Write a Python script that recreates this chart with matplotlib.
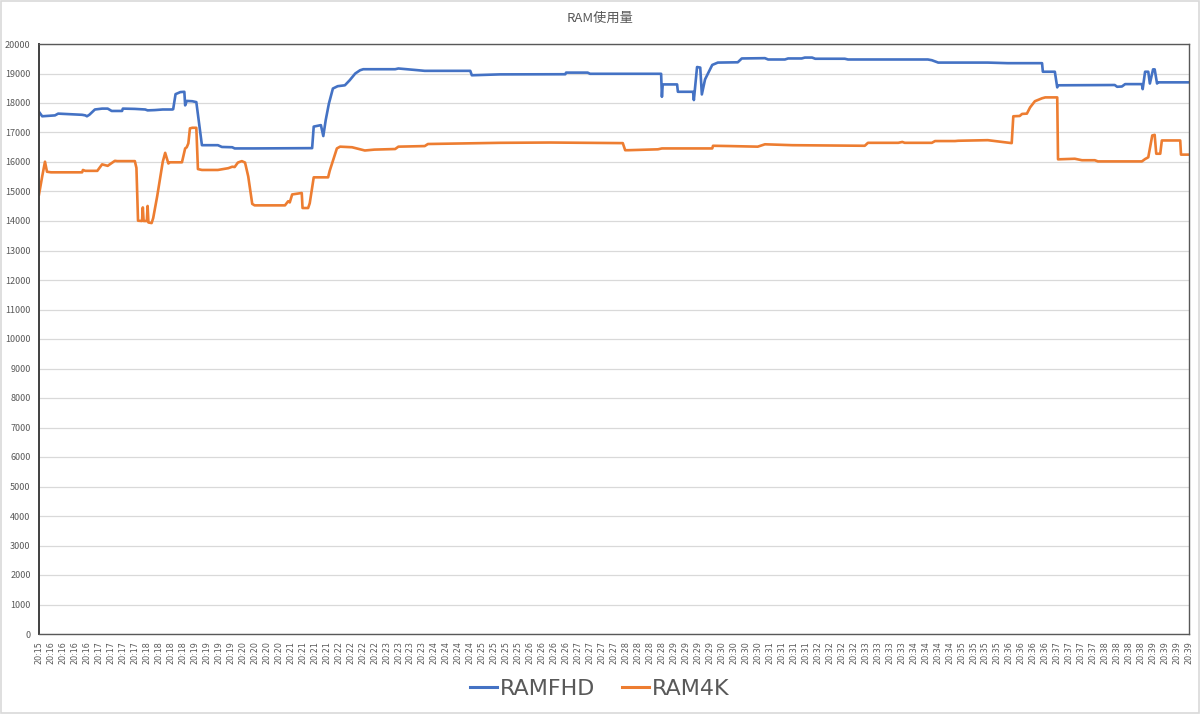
import matplotlib
matplotlib.use("Agg")
import matplotlib.pyplot as plt
from matplotlib.lines import Line2D
from matplotlib.patches import Rectangle

plt.rcParams['font.family'] = ['Noto Sans CJK JP', 'DejaVu Sans']

# time axis: seconds since 20:15:00, labels every 15 s
tick_labels = ["20:15"] + [f"20:{m}" for m in range(16, 40) for _ in range(4)]

# RAMFHD (MB): sample time (s) and value
fhd_t = [0, 4, 20, 24, 54, 58, 60, 63, 70, 79, 86, 91, 104, 105, 120, 133, 136, 145, 155, 167,
         168, 171, 177, 182, 183, 185, 192, 197, 204, 224, 229, 242, 245, 270, 342, 344, 353, 356,
         359, 363, 368, 374, 383, 389, 396, 402, 406, 446, 450, 471, 483, 540, 542, 577, 659, 660,
         687, 690, 779, 780, 781, 799, 800, 819, 820, 824, 828, 830, 834, 843, 850, 875, 880, 909,
         913, 934, 938, 955, 959, 968, 972, 1009, 1013, 1113, 1118, 1126, 1188, 1213, 1256, 1257,
         1272, 1275, 1276, 1347, 1350, 1356, 1360, 1381, 1382, 1385, 1389, 1391, 1395, 1397, 1400,
         1401, 1440]
fhd_v = [17700, 17550, 17580, 17640, 17600, 17580, 17550, 17600, 17780, 17810, 17810, 17730, 17730,
         17810, 17800, 17780, 17750, 17760, 17780, 17780, 17790, 18300, 18370, 18380, 17920, 18070,
         18060, 18030, 16570, 16570, 16510, 16500, 16460, 16460, 16470, 17200, 17250, 16880, 17420,
         17980, 18490, 18570, 18600, 18770, 19000, 19110, 19145, 19145, 19170, 19120, 19090, 19090,
         18940, 18970, 18975, 19030, 19030, 18990, 18990, 18210, 18630, 18630, 18380, 18380, 18100,
         19220, 19200, 18290, 18800, 19290, 19370, 19380, 19510, 19520, 19475, 19475, 19510, 19510,
         19540, 19540, 19500, 19500, 19475, 19475, 19450, 19370, 19370, 19350, 19350, 19060, 19060,
         18530, 18600, 18610, 18550, 18560, 18640, 18640, 18470, 19060, 19060, 18660, 19140, 19140,
         18660, 18700, 18700]

# RAM4K (MB)
k4_t = [0, 4, 7.5, 10, 15, 54, 55, 58, 73, 79, 86, 95, 98, 120, 122, 124, 129, 130, 131, 135, 136,
        137, 141, 143, 148, 152, 155, 158, 162, 164, 179, 183, 185, 187, 189, 192, 197, 199, 204,
        224, 237, 242, 245, 249, 254, 258, 262, 267, 270, 308, 312, 314, 317, 329, 330, 337, 339,
        344, 362, 364, 373, 377, 392, 408, 420, 446, 450, 483, 487, 577, 640, 731, 734, 738, 775,
        780, 843, 844, 865, 900, 909, 943, 1034, 1038, 1076, 1081, 1084, 1118, 1122, 1147, 1151,
        1188, 1218, 1220, 1228, 1231, 1237, 1241, 1247, 1256, 1260, 1275, 1276, 1297, 1306, 1322,
        1326, 1381, 1385, 1389, 1394, 1397, 1399, 1404, 1406, 1429, 1430, 1440]
k4_v = [14900, 15510, 16010, 15670, 15650, 15650, 15730, 15700, 15700, 15920, 15870, 16040, 16030,
        16030, 15800, 14010, 14000, 14460, 14000, 14000, 14510, 13950, 13930, 14100, 14840, 15510,
        16010, 16310, 15950, 15990, 15990, 16460, 16500, 16630, 17140, 17160, 17160, 15760, 15730,
        15730, 15790, 15840, 15830, 15980, 16030, 15980, 15510, 14580, 14530, 14530, 14670, 14630,
        14900, 14950, 14440, 14440, 14600, 15480, 15480, 15700, 16460, 16520, 16500, 16390, 16420,
        16440, 16520, 16540, 16610, 16650, 16660, 16640, 16400, 16400, 16430, 16460, 16460, 16550,
        16540, 16520, 16600, 16570, 16550, 16650, 16650, 16680, 16650, 16650, 16710, 16710, 16720,
        16740, 16640, 17550, 17560, 17630, 17640, 17850, 18060, 18160, 18190, 18190, 16090, 16110,
        16060, 16060, 16020, 16020, 16100, 16160, 16900, 16920, 16280, 16280, 16730, 16730, 16250,
        16250]

series_names = ["RAMFHD", "RAM4K"]
colors = ["#4472C4", "#ED7D31"]
text_color = "#595959"

fig = plt.figure(figsize=(12, 7.14), dpi=100)
fig.patch.set_facecolor("white")
fig.add_artist(Rectangle((0.0008, 0.0012), 0.9984, 0.9976, transform=fig.transFigure,
                         fill=False, edgecolor="#d9d9d9", linewidth=1.2))

W, H = 1200, 714
ax = fig.add_axes([39 / W, 1 - 634 / H, (1189 - 39) / W, (634 - 44) / H])

ax.plot(fhd_t, fhd_v, color=colors[0], linewidth=1.9, solid_joinstyle="round")
ax.plot(k4_t, k4_v, color=colors[1], linewidth=1.9, solid_joinstyle="round")

ax.set_xlim(0, 1440)
ax.set_ylim(0, 20000)
ax.set_yticks(range(0, 20001, 1000))
ax.set_yticklabels([str(v) for v in range(0, 20001, 1000)], fontsize=6.5, color=text_color)
ax.set_xticks([15 * i for i in range(len(tick_labels))])
ax.set_xticklabels(tick_labels, rotation=90, fontsize=5.8, color=text_color,
                   family=['DejaVu Sans'])
ax.tick_params(axis='both', length=0)
ax.tick_params(axis='x', pad=5)
ax.tick_params(axis='y', pad=6)
ax.grid(axis='y', color="#d9d9d9", linewidth=0.9)
ax.set_axisbelow(True)
for s in ax.spines.values():
    s.set_color("#595959")
    s.set_linewidth(1.0)
ax.spines['left'].set_color("#404040")
ax.spines['left'].set_linewidth(1.4)

fig.text(0.5, 1 - 18 / H, "RAM使用量", ha='center', va='center', fontsize=9.5, color=text_color)

handles = [Line2D([0], [0], color=c, linewidth=2.2) for c in colors]
fig.legend(handles, series_names, loc='center', bbox_to_anchor=(0.5, 1 - 689 / H), ncol=2,
           frameon=False, handlelength=1.2, handletextpad=0.15, columnspacing=1.2,
           labelcolor=text_color, prop={'family': ['DejaVu Sans'], 'size': 16})

fig.savefig("out.png", dpi=100, facecolor="white")
